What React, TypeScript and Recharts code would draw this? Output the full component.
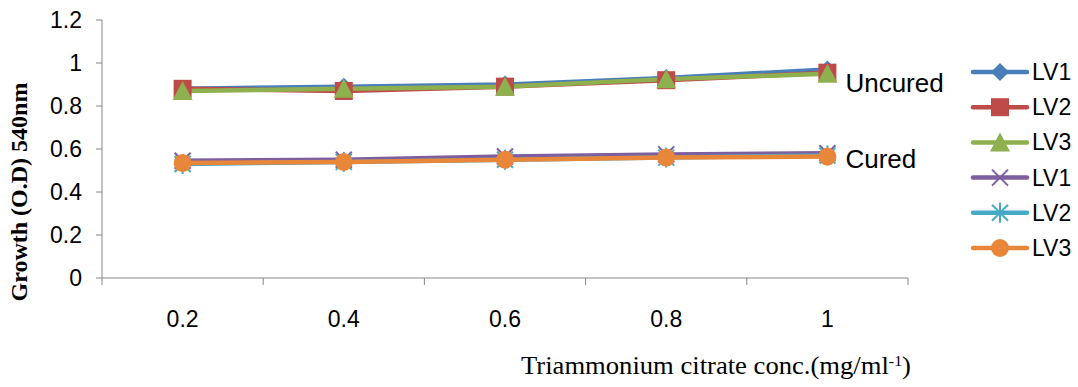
import { LineChart, Line, XAxis, YAxis, Legend } from "recharts";

// Triammonium citrate concentrations (mg/ml)
const categories = ["0.2", "0.4", "0.6", "0.8", "1"];

// Uncured
const uncuredLV1 = [0.88, 0.89, 0.9, 0.93, 0.97];
const uncuredLV2 = [0.88, 0.87, 0.89, 0.92, 0.955];
const uncuredLV3 = [0.87, 0.88, 0.89, 0.925, 0.95];

// Cured
const curedLV1 = [0.545, 0.55, 0.565, 0.575, 0.58];
const curedLV2 = [0.53, 0.54, 0.55, 0.56, 0.57];
const curedLV3 = [0.535, 0.54, 0.55, 0.56, 0.565];

const yTicks = [0, 0.2, 0.4, 0.6, 0.8, 1, 1.2];

const W = 1078;
const H = 387;
const LEFT = 102;
const RIGHT = 170;
const STEP = (W - LEFT - RIGHT) / categories.length;

const SANS = "'Liberation Sans', Arial, sans-serif";
const SERIF = "'Liberation Serif', 'Times New Roman', serif";

const data = categories.map((c, i) => ({
  x: i + 0.5,
  label: c,
  uLV1: uncuredLV1[i],
  uLV2: uncuredLV2[i],
  uLV3: uncuredLV3[i],
  cLV1: curedLV1[i],
  cLV2: curedLV2[i],
  cLV3: curedLV3[i],
}));

type Shape = "diamond" | "square" | "triangle" | "x" | "star" | "circle";

const series: { key: string; name: string; color: string; shape: Shape }[] = [
  { key: "uLV1", name: "LV1", color: "#4A7EBB", shape: "diamond" },
  { key: "uLV2", name: "LV2", color: "#BE4B48", shape: "square" },
  { key: "uLV3", name: "LV3", color: "#8EB04F", shape: "triangle" },
  { key: "cLV1", name: "LV1", color: "#7D5FA0", shape: "x" },
  { key: "cLV2", name: "LV2", color: "#46AAC5", shape: "star" },
  { key: "cLV3", name: "LV3", color: "#E8873A", shape: "circle" },
];

function Marker({ cx, cy, shape, color }: { cx: number; cy: number; shape: Shape; color: string }) {
  switch (shape) {
    case "diamond":
      return <polygon points={`${cx},${cy - 9} ${cx + 9},${cy} ${cx},${cy + 9} ${cx - 9},${cy}`} fill={color} />;
    case "square":
      return <rect x={cx - 9} y={cy - 9} width={18} height={18} fill={color} />;
    case "triangle":
      return <polygon points={`${cx},${cy - 10} ${cx + 10},${cy + 9} ${cx - 10},${cy + 9}`} fill={color} />;
    case "x":
      return (
        <g stroke={color} strokeWidth={2}>
          <line x1={cx - 8} y1={cy - 8} x2={cx + 8} y2={cy + 8} />
          <line x1={cx - 8} y1={cy + 8} x2={cx + 8} y2={cy - 8} />
        </g>
      );
    case "star":
      return (
        <g stroke={color} strokeWidth={2}>
          <line x1={cx - 8} y1={cy - 8} x2={cx + 8} y2={cy + 8} />
          <line x1={cx - 8} y1={cy + 8} x2={cx + 8} y2={cy - 8} />
          <line x1={cx} y1={cy - 10} x2={cx} y2={cy + 10} />
        </g>
      );
    default:
      return <circle cx={cx} cy={cy} r={9} fill={color} />;
  }
}

function XTick(props: any) {
  const { x, y, payload } = props;
  const i = payload.value;
  if (i >= categories.length) return null;
  return (
    <text x={x + STEP / 2} y={y} dy={40} textAnchor="middle" fontSize={23} fontFamily={SANS} fill="#000">
      {categories[i]}
    </text>
  );
}

function LegendBox() {
  return (
    <svg width={110} height={220} style={{ overflow: "visible", display: "block" }}>
      {series.map((s, i) => {
        const y = 17 + i * 35.2;
        return (
          <g key={s.key}>
            <line x1={3} y1={y} x2={57} y2={y} stroke={s.color} strokeWidth={4.5} strokeLinecap="round" />
            <Marker cx={30} cy={y} shape={s.shape} color={s.color} />
            <text x={62} y={y} dy="0.35em" fontSize={23} fontFamily={SANS} fill="#000">
              {s.name}
            </text>
          </g>
        );
      })}
    </svg>
  );
}

function endLabel(text: string, shift: number) {
  return (props: any) => {
    const { x, y, index } = props;
    if (index !== categories.length - 1) return null;
    return (
      <text x={x + 18} y={y + shift} dy="0.35em" fontSize={26} fontFamily={SANS} fill="#000">
        {text}
      </text>
    );
  };
}

export default function App() {
  return (
    <div style={{ position: "absolute", left: 0, top: 0, width: W, height: H, background: "#fff" }}>
      <LineChart width={W} height={H} data={data} margin={{ top: 20, right: RIGHT, left: 0, bottom: 0 }}>
        <XAxis
          type="number"
          dataKey="x"
          domain={[0, 5]}
          ticks={[0, 1, 2, 3, 4, 5]}
          interval={0}
          height={109}
          tickSize={7}
          stroke="#868686"
          tick={<XTick />}
          label={{
            content: () => (
              <text
                x={716}
                y={374}
                textAnchor="middle"
                fontSize={25}
                fontFamily={SERIF}
                fill="#000"
                textLength={390}
                lengthAdjust="spacingAndGlyphs"
              >
                Triammonium citrate conc.(mg/ml
                <tspan baselineShift="super" fontSize={15}>-1</tspan>)
              </text>
            ),
          }}
        />
        <YAxis
          type="number"
          domain={[0, 1.2]}
          ticks={yTicks}
          interval={0}
          width={LEFT}
          tickSize={6}
          tickMargin={14}
          stroke="#868686"
          tick={{ fill: "#000", fontSize: 23, fontFamily: SANS }}
          label={{
            content: () => (
              <text
                transform="translate(27,192) rotate(-90)"
                textAnchor="middle"
                fontSize={24}
                fontWeight="bold"
                fontFamily={SERIF}
                fill="#000"
              >
                Growth (O.D) 540nm
              </text>
            ),
          }}
        />
        <Legend
          content={<LegendBox />}
          wrapperStyle={{ position: "absolute", left: 970, top: 55, width: 0, height: 0, overflow: "visible" }}
        />
        {series.map((s) => (
          <Line
            key={s.key}
            dataKey={s.key}
            name={s.name}
            stroke={s.color}
            strokeWidth={4.5}
            isAnimationActive={false}
            dot={(p: any) => <Marker key={`${s.key}-${p.index}`} cx={p.cx} cy={p.cy} shape={s.shape} color={s.color} />}
            activeDot={false}
            label={s.key === "uLV3" ? endLabel("Uncured", 9) : s.key === "cLV3" ? endLabel("Cured", 2) : undefined}
          />
        ))}
      </LineChart>
    </div>
  );
}
